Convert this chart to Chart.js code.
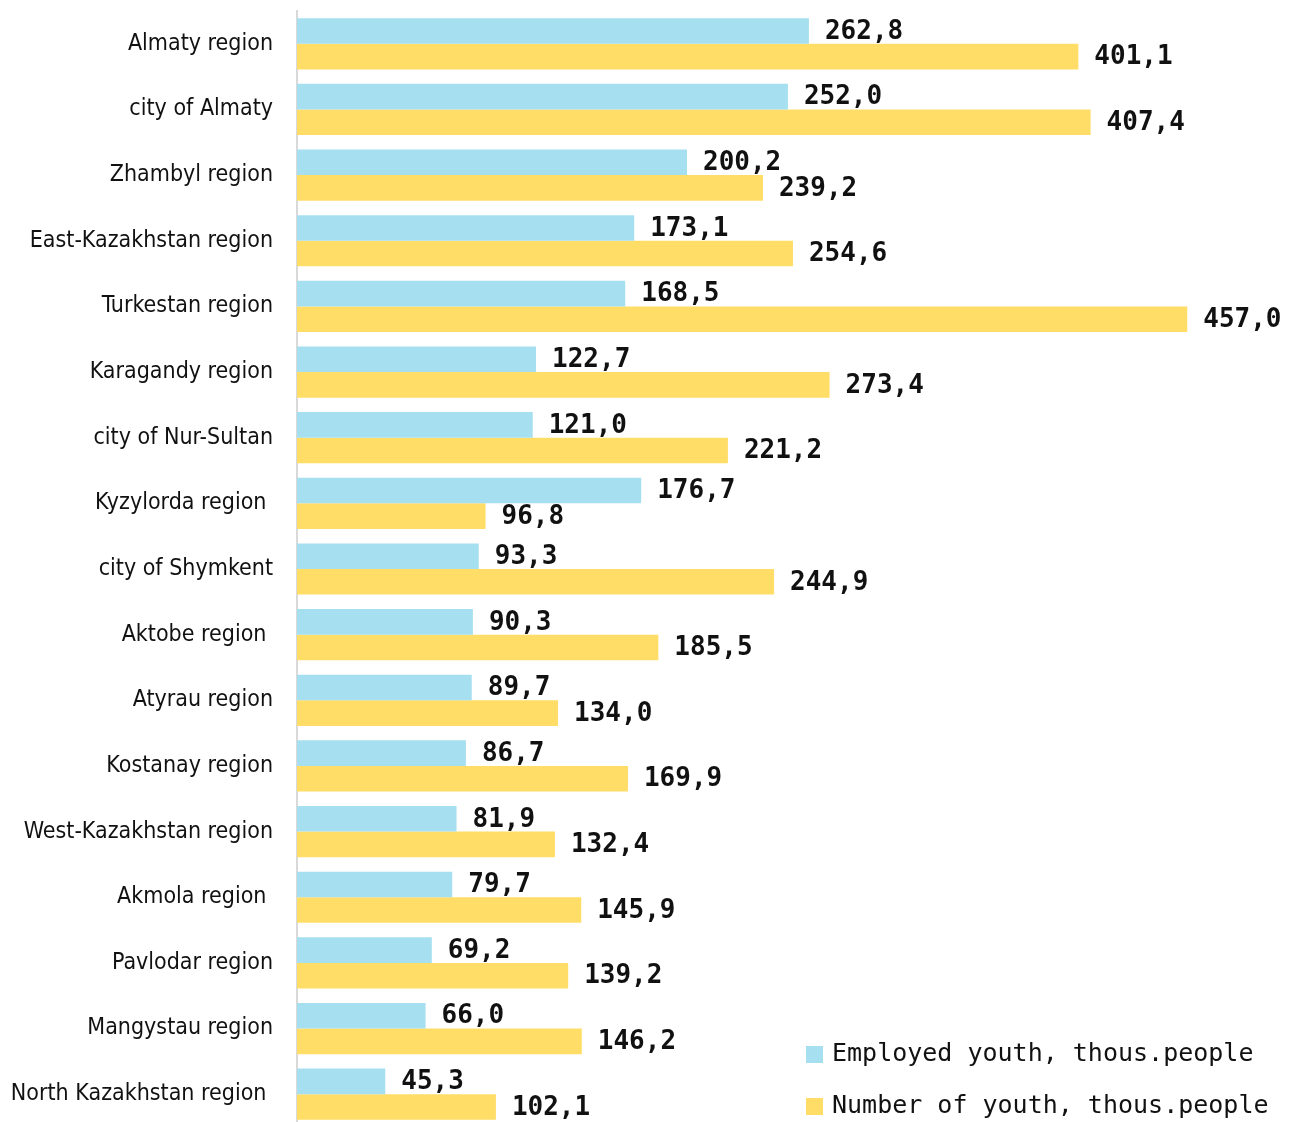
<!DOCTYPE html>
<html>
<head>
<meta charset="utf-8">
<script src="https://cdn.jsdelivr.net/npm/chart.js@4.4.0/dist/chart.umd.min.js"></script>
<style>
  body { margin: 0; background: #fff; overflow: hidden; }
  #wrap { width: 1293px; height: 1127px; }
</style>
</head>
<body>
<div id="wrap"><canvas id="myChart" width="1293" height="1127"></canvas></div>
<script>
const regions = ['Almaty region', 'city of Almaty', 'Zhambyl region', 'East-Kazakhstan region',
    'Turkestan region', 'Karagandy region', 'city of Nur-Sultan', 'Kyzylorda region ',
    'city of Shymkent', 'Aktobe region ', 'Atyrau region', 'Kostanay region',
    'West-Kazakhstan region', 'Akmola region ', 'Pavlodar region', 'Mangystau region',
    'North Kazakhstan region '];
const employed = [262.8, 252.0, 200.2, 173.1, 168.5, 122.7, 121.0, 176.7, 93.3, 90.3, 89.7, 86.7, 81.9, 79.7, 69.2, 66.0, 45.3];
const youth = [401.1, 407.4, 239.2, 254.6, 457.0, 273.4, 221.2, 96.8, 244.9, 185.5, 134.0, 169.9, 132.4, 145.9, 139.2, 146.2, 102.1];
const seriesNames = ['Employed youth, thous.people', 'Number of youth, thous.people'];
const colors = ['#a6dfef', '#ffdd66'];

// value labels at the end of each bar
const valueLabels = {
    id: 'valueLabels',
    afterDatasetsDraw(chart) {
        const c = chart.ctx;
        c.save();
        c.font = 'bold 26px "DejaVu Sans Mono"';
        c.fillStyle = '#111';
        c.textBaseline = 'middle';
        c.textAlign = 'left';
        chart.data.datasets.forEach((ds, di) => {
            chart.getDatasetMeta(di).data.forEach((bar, i) => {
                c.fillText(ds.data[i].toFixed(1).replace('.', ','), bar.x + 16, bar.y + 1);
            });
        });
        c.restore();
    }
};

// legend in the lower right corner of the plot
const cornerLegend = {
    id: 'cornerLegend',
    afterDraw(chart) {
        const c = chart.ctx;
        const area = chart.chartArea;
        c.save();
        c.font = '25px "DejaVu Sans Mono"';
        c.textBaseline = 'middle';
        c.textAlign = 'left';
        chart.data.datasets.forEach((ds, di) => {
            const y = area.bottom - 73 + di * 52;
            c.fillStyle = ds.backgroundColor;
            c.fillRect(area.left + 509, y - 8, 17, 17);
            c.fillStyle = '#111';
            c.fillText(ds.label, area.left + 535, y);
        });
        c.restore();
    }
};

const ctx = document.getElementById('myChart');

new Chart(ctx, {
    type: 'bar',
    data: {
        labels: regions,
        datasets: [{
            label: seriesNames[0],
            data: employed,
            backgroundColor: colors[0],
            barPercentage: 1,
            categoryPercentage: 0.78
        }, {
            label: seriesNames[1],
            data: youth,
            backgroundColor: colors[1],
            barPercentage: 1,
            categoryPercentage: 0.78
        }]
    },
    options: {
        indexAxis: 'y',
        responsive: false,
        animation: false,
        devicePixelRatio: 1,
        layout: { padding: { top: 11, right: 22, bottom: 0, left: 0 } },
        plugins: {
            legend: { display: false },
            tooltip: { enabled: false }
        },
        scales: {
            x: {
                display: false,
                min: 0,
                max: 500
            },
            y: {
                grid: { display: false },
                border: { color: '#d9d9d9', width: 2 },
                ticks: {
                    color: '#111',
                    padding: 16,
                    font: { family: '"Liberation Sans Narrow", "DejaVu Sans Condensed", sans-serif', size: 23 }
                },
                afterFit(scale) {
                    scale.width = 297;
                    scale.paddingTop = 0;
                    scale.paddingBottom = 0;
                }
            }
        }
    },
    plugins: [valueLabels, cornerLegend]
});
</script>
</body>
</html>
